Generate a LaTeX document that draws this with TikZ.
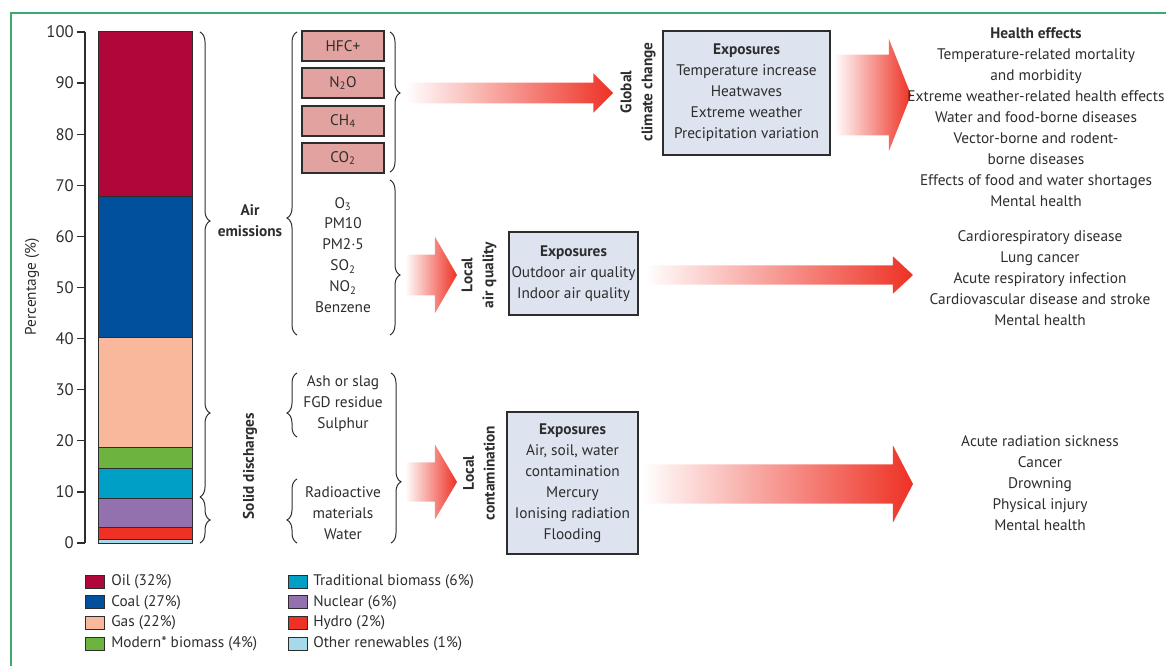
\documentclass[tikz,border=0pt]{standalone}
\usepackage{fontspec}
\setmainfont{PT Sans}
\usetikzlibrary{decorations.pathreplacing,shapes.arrows}

\definecolor{oilc}{RGB}{176,6,58}
\definecolor{coalc}{RGB}{0,80,158}
\definecolor{gasc}{RGB}{249,184,156}
\definecolor{modc}{RGB}{109,179,63}
\definecolor{tradc}{RGB}{0,160,198}
\definecolor{nucc}{RGB}{147,112,174}
\definecolor{hydc}{RGB}{238,49,36}
\definecolor{othc}{RGB}{166,217,234}
\definecolor{ghgfill}{RGB}{226,163,160}
\definecolor{expfill}{RGB}{221,227,239}
\definecolor{arrowred}{RGB}{238,49,36}
\definecolor{arrowmid}{RGB}{246,168,132}
\definecolor{framegreen}{RGB}{60,170,110}
\definecolor{inkc}{RGB}{45,45,45}

\tikzset{
  txt/.style={font=\fontsize{11.5}{15.7}\selectfont, text=inkc, inner sep=0pt, align=center},
  txtb/.style={txt, font=\fontsize{11.5}{15.7}\selectfont\bfseries},
  ticklbl/.style={font=\fontsize{12.5}{14}\selectfont, text=inkc, inner sep=0pt},
  axisline/.style={draw=inkc, line width=0.9pt},
  barseg/.style={draw=inkc, line width=0.75pt},
  curly/.style={decorate, decoration={brace, amplitude=7.5pt, aspect=#1}, draw=inkc, line width=0.75pt},
  bracepath/.style={draw=inkc, line width=0.75pt},
  ghg/.style={txt, draw=inkc, fill=ghgfill, line width=0.9pt, minimum width=61.5pt, minimum height=22.5pt},
  expbox/.style={txt, draw=inkc, fill=expfill, line width=0.9pt},
  swatch/.style={draw=inkc, line width=0.75pt, minimum width=14.25pt, minimum height=9.75pt, inner sep=0pt},
  fadearrow/.style={single arrow, draw=none, left color=white, middle color=arrowmid, right color=arrowred,
    single arrow head indent=0pt, inner xsep=0pt, outer sep=0pt, anchor=tail}
}

\begin{document}
\begin{tikzpicture}[x=0.75pt,y=0.75pt,yscale=-1,xscale=1]
\useasboundingbox (0,0) rectangle (1166,666);

%Frame
\draw [framegreen, line width=1.1pt] (11,666) -- (11,13) -- (1166,13) ;

%Axis and ticks
\draw [axisline] (85,32) -- (85,543) ;
\foreach \v in {0,10,...,100}{
  \draw [axisline] (77,{543-5.11*\v}) -- (85,{543-5.11*\v}) ;
  \node [ticklbl, anchor=east] (tick\v) at (74,{543-5.11*\v}) {\v};
}
% Text Node
\node [txt, rotate=90] (ylab) at (32,287) {Percentage (\%)};

%Stacked bar
\draw [barseg, fill=oilc] (98,32) rectangle (192,197) ;
\draw [barseg, fill=coalc] (98,197) rectangle (192,337) ;
\draw [barseg, fill=gasc] (98,337) rectangle (192,447) ;
\draw [barseg, fill=modc] (98,447) rectangle (192,468) ;
\draw [barseg, fill=tradc] (98,468) rectangle (192,498) ;
\draw [barseg, fill=nucc] (98,498) rectangle (192,527) ;
\draw [barseg, fill=hydc] (98,527) rectangle (192,539) ;
\draw [barseg, fill=othc] (98,539) rectangle (192,543) ;

%Braces next to the bar
\draw [bracepath] (200,32) .. controls (203,33.5) and (205,37) .. (205,42) -- (205,211) .. controls (205,216) and (207,219.5) .. (210,221) .. controls (207,222.5) and (205,226) .. (205,231) -- (205,403) .. controls (205,408) and (207,411.5) .. (210,413) .. controls (207,414.5) and (205,418) .. (205,423) -- (205,487) .. controls (205,492) and (203,495.5) .. (200,497) ;
\draw [curly=0.5] (200,497) -- (200,543) ;

% Text Node
\node [txtb] (airem) at (250,221) {Air\\emissions};
% Text Node
\node [txtb, rotate=90] (solid) at (250,466) {Solid discharges};

%Braces of the emission groups
\draw [curly=0.386] (297,335) -- (297,32) ;
\draw [curly=0.436] (390,32) -- (390,172) ;
\draw [curly=0.613] (390,180) -- (390,335) ;
\draw [curly=0.375] (297,437) -- (297,373) ;
\draw [curly=0.36] (297,543) -- (297,479) ;
\draw [curly=0.64] (391,373) -- (391,543) ;

%Greenhouse gases
\node [ghg] (hfc) at (343,46) {HFC+};
\node [ghg] (ntwo) at (343,83) {N\textsubscript{2}O};
\node [ghg] (chfour) at (343,121) {CH\textsubscript{4}};
\node [ghg] (cotwo) at (343,158) {CO\textsubscript{2}};

% Text Node
\node [txt] (pollut) at (343,255) {O\textsubscript{3}\\PM10\\PM2·5\\SO\textsubscript{2}\\NO\textsubscript{2}\\Benzene};
% Text Node
\node [txt] (ash) at (343,404) {Ash or slag\\FGD residue\\Sulphur};
% Text Node
\node [txt] (radio) at (343,513) {Radioactive\\materials\\Water};

%Arrows
\node [fadearrow, inner ysep=7.5pt, single arrow head extend=7.1pt, single arrow tip angle=90, minimum height=156pt] (arrglob) at (405,93) {};
\node [fadearrow, inner ysep=15pt, single arrow head extend=13.5pt, single arrow tip angle=120, minimum height=39pt] (arrair) at (405,275) {};
\node [fadearrow, inner ysep=14.6pt, single arrow head extend=13.5pt, single arrow tip angle=119, minimum height=39pt] (arrcon) at (405,482) {};

% Text Node
\node [txtb, rotate=90] (glob) at (638,92) {Global\\climate change};
% Text Node
\node [txtb, rotate=90] (locair) at (479,275) {Local\\air quality};
% Text Node
\node [txtb, rotate=90] (loccon) at (479,473) {Local\\contamination};

%Exposures
\node [expbox, minimum width=125.25pt, minimum height=93pt] (expglob) at (746.5,93) {\textbf{Exposures}\\Temperature increase\\Heatwaves\\Extreme weather\\Precipitation variation};
\node [expbox, minimum width=96.75pt, minimum height=62.25pt] (expair) at (573.5,273.5) {\textbf{Exposures}\\Outdoor air quality\\Indoor air quality};
\node [expbox, minimum width=98.25pt, minimum height=106.5pt] (expcon) at (572.5,483) {\textbf{Exposures}\\Air, soil, water\\contamination\\Mercury\\Ionising radiation\\Flooding};

%Arrows to the health effects
\node [fadearrow, inner ysep=30pt, single arrow head extend=12pt, single arrow tip angle=137, minimum height=57.75pt] (arrhglob) at (834,95) {};
\node [fadearrow, inner ysep=7.1pt, single arrow head extend=6.75pt, single arrow tip angle=86, minimum height=201pt] (arrhair) at (645,275) {};
\node [fadearrow, inner ysep=14.6pt, single arrow head extend=14.25pt, single arrow tip angle=125, minimum height=203.25pt] (arrhcon) at (642,484) {};

%Health effects
\node [txt] (hlthglob) at (1036,117) {\textbf{Health effects}\\Temperature-related mortality\\and morbidity\\Extreme weather-related health effects\\Water and food-borne diseases\\Vector-borne and rodent-\\borne diseases\\Effects of food and water shortages\\Mental health};
\node [txt] (hlthair) at (1040,278.5) {Cardiorespiratory disease\\Lung cancer\\Acute respiratory infection\\Cardiovascular disease and stroke\\Mental health};
\node [txt] (hlthcon) at (1040,483) {Acute radiation sickness\\Cancer\\Drowning\\Physical injury\\Mental health};

%Legend
\foreach \fillc/\lbl [count=\i] in {oilc/Oil (32\%), coalc/Coal (27\%), gasc/Gas (22\%), modc/Modern* biomass (4\%)}{
  \node [swatch, fill=\fillc] (swl\i) at (95,{561+20.7*\i}) {};
  \node [txt, anchor=west] (lgl\i) at (111,{561+20.7*\i}) {\lbl};
}
\foreach \fillc/\lbl [count=\i] in {tradc/Traditional biomass (6\%), nucc/Nuclear (6\%), hydc/Hydro (2\%), othc/Other renewables (1\%)}{
  \node [swatch, fill=\fillc] (swr\i) at (297.5,{561+20.7*\i}) {};
  \node [txt, anchor=west] (lgr\i) at (313,{561+20.7*\i}) {\lbl};
}

\end{tikzpicture}
\end{document}
